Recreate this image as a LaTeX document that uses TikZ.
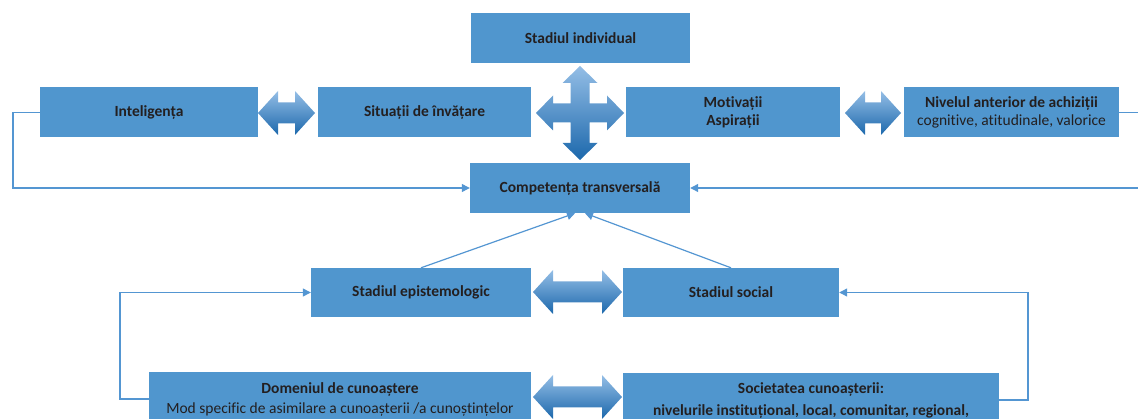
\documentclass[tikz,border=0pt]{standalone}
\usepackage{fontspec}
\setmainfont{Carlito}[Ligatures=NoCommon]
\usetikzlibrary{arrows.meta}
\definecolor{boxblue}{RGB}{80,150,206}
\definecolor{linkblue}{RGB}{84,150,210}
\definecolor{txt}{RGB}{35,31,32}
\definecolor{shlight}{RGB}{148,190,230}
\definecolor{shdark}{RGB}{28,104,172}
\tikzset{
  box/.style={fill=boxblue, draw=none, text=txt, align=center,
    font=\bfseries\fontsize{15.5}{18}\selectfont, inner sep=0pt},
  link/.style={draw=linkblue, line width=1.2pt, -{Triangle[length=8pt,width=8pt]}},
  blockarrow/.style={top color=shlight, bottom color=shdark, draw=none},
}
\begin{document}
\begin{tikzpicture}[x=1pt,y=-1pt]
\useasboundingbox (0,0) rectangle (1138,419);
\clip (0,0) rectangle (1138,419);
% boxes
\node[box, minimum width=219pt, minimum height=50pt] (ind) at (580.5,38) {Stadiul individual};
\node[box, minimum width=218pt, minimum height=50pt] (intel) at (149,112.5) {Inteligența};
\node[box, minimum width=213pt, minimum height=50pt] (sit) at (424.5,112.5) {Situații de învățare};
\node[box, minimum width=214pt, minimum height=50pt] (mot) at (733,112.5) {Motivații\\Aspirații};
\node[box, minimum width=215pt, minimum height=50pt] (niv) at (1011.5,112.5) {Nivelul anterior de achiziții\\\mdseries cognitive, atitudinale, valorice};
\node[box, minimum width=220pt, minimum height=50pt] (comp) at (580,188) {Competența transversală};
\node[box, minimum width=220pt, minimum height=49pt] (epi) at (421,292.5) {Stadiul epistemologic};
\node[box, minimum width=216pt, minimum height=49pt] (soc) at (731,292.5) {Stadiul social};
\node[box, minimum width=382pt, minimum height=54pt, font=\bfseries\fontsize{15.5}{20}\selectfont] (dom) at (340,399) {Domeniul de cunoaștere\\\mdseries Mod specific de asimilare a cunoașterii /a cunoștințelor};
\node[box, minimum width=376pt, minimum height=54pt, font=\bfseries\fontsize{15.5}{22}\selectfont] (socc) at (811,400) {Societatea cunoașterii:\\nivelurile instituțional, local, comunitar, regional,};
% block double arrows
\foreach \L/\R/\c in {258/315/113, 845/901/113, 533/622/292, 533/622/397}{
  \shade[blockarrow] (\L,\c) -- (\L+20,\c-22) -- (\L+20,\c-10.5) -- (\R-20,\c-10.5) -- (\R-20,\c-22) -- (\R,\c)
    -- (\R-20,\c+22) -- (\R-20,\c+10.5) -- (\L+20,\c+10.5) -- (\L+20,\c+22) -- cycle;
}
% four-way arrow
\shade[blockarrow] (580,66) -- (597.5,83) -- (589.5,83) -- (589.5,103.5) -- (607,103.5) -- (607,95.5) -- (624,113)
  -- (607,130.5) -- (607,122.5) -- (589.5,122.5) -- (589.5,143) -- (597.5,143) -- (580,160)
  -- (562.5,143) -- (570.5,143) -- (570.5,122.5) -- (553,122.5) -- (553,130.5) -- (536,113)
  -- (553,95.5) -- (553,103.5) -- (570.5,103.5) -- (570.5,83) -- (562.5,83) -- cycle;
% connectors
\draw[link] (intel.west) -- (13,112.5) |- (comp.west);
\draw[link] (niv.east) -- (1150,112.5) |- (comp.east);
\draw[link] (epi.north) -- ([xshift=-5pt]comp.south);
\draw[link] (soc.north) -- ([xshift=5pt]comp.south);
\draw[link] (dom.west) -- (120,399) |- (epi.west);
\draw[link] (socc.east) -- (1028,400) |- (soc.east);
\end{tikzpicture}
\end{document}
